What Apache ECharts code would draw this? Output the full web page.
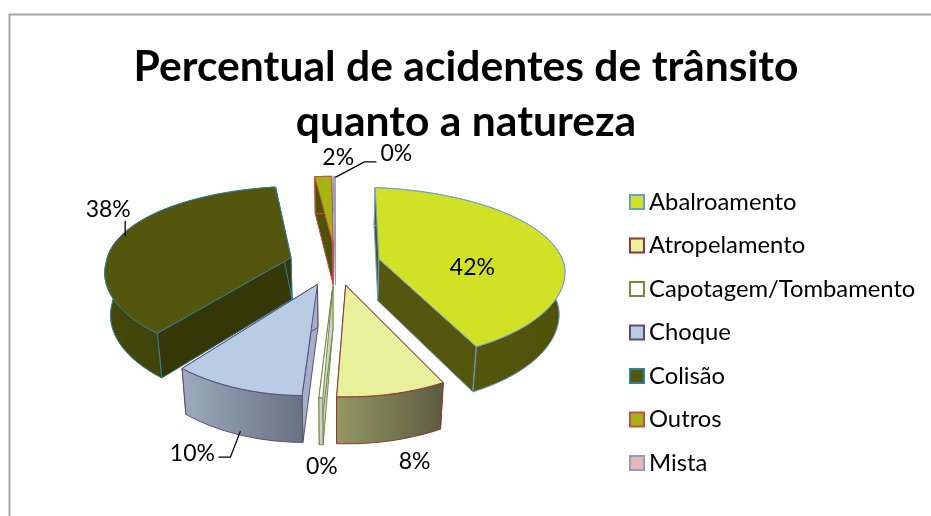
<!DOCTYPE html>
<html>
<head>
<meta charset="utf-8">
<style>html,body{margin:0;padding:0;background:#fff}#c{width:931px;height:516px}</style>
<script src="https://cdn.jsdelivr.net/npm/echarts@6/dist/echarts.min.js"></script>
</head>
<body>
<div id="c"></div>
<script>
// ---- data ----
const categories = ['Abalroamento','Atropelamento','Capotagem/Tombamento','Choque','Colisão','Outros','Mista'];
const values = [41.8, 8.49, 0.3, 10.55, 37.8, 1.6, 0.1];
const titleLines = ['Percentual de acidentes de trânsito','quanto a natureza'];

// ---- styles ----
const topColors   = ['#d0e126','#e9f09c','#ffffff','#b8cce4','#53560c','#a6b412','#e6b9b8'];
const edgeColors  = ['#6b9fd4','#8c3836','#6f8d3c','#5f4a7c','#2f7f95','#c4504d','#8ea0c0'];
const sideColors  = ['#55570f','#5f5f42','#d4d4d4','#a3b1c8','#353806','#4f5208','#c9a6a6'];
const wallStops   = [['#595c10','#505209'],['#949862','#5b5b40'],['#d4d4d4','#c8c8c8'],['#9dabbf','#667282'],['#45480b','#3a3d08'],['#4f5208','#4f5208'],['#c9a6a6','#c9a6a6']];
const paintOrder  = [3,1,6,4,5,2,7]; // back-to-front rank per category
const labelOffsets = [[-81,23],[23,68],[1,69],[-44.4,65],[-10.5,-29],[15,-19],[62,-23]];
const leaders = [null,null,null,[[3.6,43],[-6.4,69],[-18.4,69]],[[6.5,-2],[6.5,-17.5]],null,[[1,1],[30,-14.5],[42,-14.5]]];

// ---- pie projection parameters ----
const P = {cx:334.5, cy:264, rx:186, ry:85, px:0.08, py:0.166, explode:0.247, start:1.5, depth:42, depthV:4, shrink:0.975, warpX:5, warpY:5};
const FONT = 'Lato';
const total = values.reduce((a,b)=>a+b,0);
const spans = []; (function(){let a=P.start; values.forEach(v=>{const b=a+v/total*360; spans.push([a,b]); a=b;});})();
const rad = d=>d*Math.PI/180;

function project(u,v,bottom,dx,dy){
  let x = P.cx + P.rx*u/(1-P.px*v) + dx;
  let y = P.cy + P.ry*v/(1-P.py*v) + dy;
  if(bottom){ x = P.cx + (x-P.cx)*P.shrink; y += P.depth + P.depthV*v; }
  return [x,y];
}
function point(i,deg,r,bottom){
  const m = (spans[i][0]+spans[i][1])/2;
  const s = Math.sin(rad(deg)), c = Math.cos(rad(deg));
  const u = P.explode*Math.sin(rad(m)) + r*s;
  const v = -P.explode*Math.cos(rad(m)) - r*c;
  let w = Math.abs(c);
  if(s>0 && c<0) w = Math.pow(w,6);
  return project(u,v,bottom,-P.warpX*w*r,P.warpY*Math.abs(s)*r);
}
function arc(i,bottom){
  const [a,b]=spans[i], n=Math.max(2,Math.ceil((b-a)/3)), pts=[];
  for(let k=0;k<=n;k++) pts.push(point(i,a+(b-a)*k/n,1,bottom));
  return pts;
}
function renderSlice(i){
  const [a,b]=spans[i], edge=edgeColors[i];
  const topArc=arc(i,false), botArc=arc(i,true);
  const apexT=point(i,a,0,false), apexB=point(i,a,0,true);
  const lw={stroke:edge,lineWidth:1,lineJoin:'round'};
  const kids=[];
  kids.push({type:'polygon',shape:{points:[apexT,topArc[0],botArc[0],apexB]},style:Object.assign({fill:sideColors[i]},lw)});
  kids.push({type:'polygon',shape:{points:[apexT,topArc[topArc.length-1],botArc[botArc.length-1],apexB]},style:Object.assign({fill:sideColors[i]},lw)});
  const wall=topArc.concat(botArc.slice().reverse());
  kids.push({type:'polygon',shape:{points:wall},style:Object.assign({fill:{type:'linear',x:0,y:0,x2:1,y2:0,colorStops:[{offset:0,color:wallStops[i][0]},{offset:1,color:wallStops[i][1]}]}},lw)});
  kids.push({type:'polygon',shape:{points:[apexT].concat(topArc)},style:Object.assign({fill:topColors[i]},lw)});
  const anchor=point(i,(a+b)/2,1,false);
  if(leaders[i]){
    kids.push({type:'polyline',shape:{points:leaders[i].map(o=>[anchor[0]+o[0],anchor[1]+o[1]])},style:{stroke:'#000',lineWidth:1.3,fill:null},z2:20});
  }
  kids.push({type:'text',z2:30,style:{text:Math.round(values[i]/total*100)+'%',x:anchor[0]+labelOffsets[i][0],y:anchor[1]+labelOffsets[i][1],fill:'#000',font:'23px '+FONT,align:'center',verticalAlign:'middle'}});
  return {type:'group',children:kids};
}
const series = categories.map((name,i)=>({
  type:'custom', name, coordinateSystem:'none', z:2+paintOrder[i], silent:true, animation:false,
  data:[[values[i]]], renderItem:()=>renderSlice(i)
}));
const chart = echarts.init(document.getElementById('c'),null,{renderer:'canvas'});
chart.setOption({
  animation:false,
  backgroundColor:'#fff',
  title:{text:titleLines.join('\n'),left:466,top:39.5,textAlign:'center',padding:0,
    textStyle:{fontFamily:FONT,fontWeight:'bold',fontSize:42.6,lineHeight:55,color:'#000'}},
  legend:{orient:'vertical',left:629,top:190,padding:0,itemWidth:14,itemHeight:14,itemGap:19.5,selectedMode:false,icon:'rect',
    textStyle:{fontFamily:FONT,fontSize:23.8,color:'#000'},
    data:categories.map((name,i)=>({name,icon:'rect',itemStyle:{color:topColors[i],borderColor:edgeColors[i],borderWidth:2}}))},
  graphic:[{type:'polyline',shape:{points:[[9.5,516],[9.5,14.5],[931,14.5]]},style:{stroke:'#a6a6a6',lineWidth:2,fill:null},silent:true}],
  series
});
</script>
</body>
</html>
